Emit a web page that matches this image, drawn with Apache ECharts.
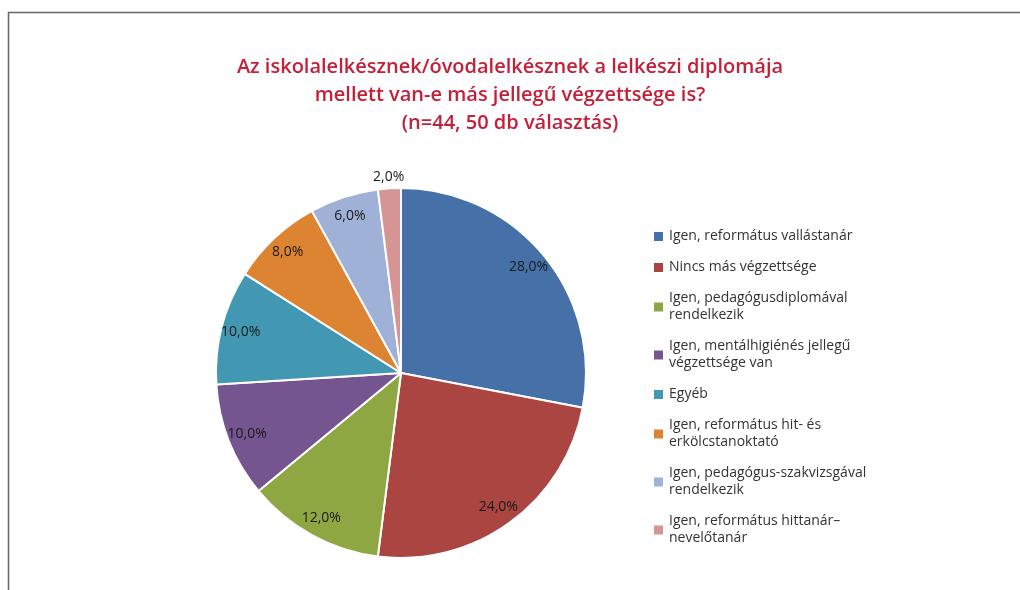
<!DOCTYPE html>
<html>
<head>
<meta charset="utf-8">
<script src="https://cdn.jsdelivr.net/npm/echarts@6/dist/echarts.min.js"></script>
<style>
  html, body { margin: 0; padding: 0; background: #fff; }
  #main { width: 1020px; height: 590px; }
</style>
</head>
<body>
<div id="main"></div>
<script>
var categories = [
  'Igen, református vallástanár',
  'Nincs más végzettsége',
  'Igen, pedagógusdiplomával\nrendelkezik',
  'Igen, mentálhigiénés jellegű\nvégzettsége van',
  'Egyéb',
  'Igen, református hit- és\nerkölcstanoktató',
  'Igen, pedagógus-szakvizsgával\nrendelkezik',
  'Igen, református hittanár–\nnevelőtanár'
];
var values = [28, 24, 12, 10, 10, 8, 6, 2];
var colors = ['#4571a8', '#aa4541', '#8ea743', '#74558f', '#4298b3', '#dd8433', '#a0b1d8', '#d69595'];
// slices whose label sits outside the pie
var outsideIdx = [7];

var titleText = 'Az iskolalelkésznek/óvodalelkésznek a lelkészi diplomája\nmellett van-e más jellegű végzettsége is?\n(n=44, 50 db választás)';

var myChart = echarts.init(document.getElementById('main'));

function pct(v) {
  return v.toFixed(1).replace('.', ',') + '%';
}

var mainData = [];
var innerData = [];
var outerData = [];
for (var i = 0; i < categories.length; i++) {
  var out = outsideIdx.indexOf(i) !== -1;
  mainData.push({ name: categories[i], value: values[i] });
  innerData.push({ name: categories[i], value: values[i], label: { show: !out } });
  outerData.push({ name: categories[i], value: values[i], label: { show: out } });
}

var labelStyle = {
  position: 'inside',
  color: '#1a1a1a',
  fontFamily: 'Open Sans',
  fontSize: 14,
  formatter: function (p) { return pct(p.value); }
};

var ghost = {
  type: 'pie',
  center: [401, 373],
  startAngle: 90,
  silent: true,
  itemStyle: { color: 'rgba(0,0,0,0)', borderWidth: 0 },
  emphasis: { disabled: true },
  labelLine: { show: false }
};

option = {
  animation: false,
  color: colors,
  title: {
    text: titleText,
    left: 'center',
    top: 48,
    textStyle: {
      color: '#c4203a',
      fontFamily: 'Open Sans',
      fontSize: 20,
      fontWeight: 600,
      lineHeight: 28
    }
  },
  legend: {
    orient: 'vertical',
    left: 652,
    top: 228,
    padding: 0,
    icon: 'rect',
    itemWidth: 11,
    itemHeight: 11,
    itemGap: 14,
    textStyle: {
      color: '#333',
      fontFamily: 'Open Sans',
      fontSize: 14,
      lineHeight: 17
    },
    data: categories
  },
  graphic: [{
    type: 'rect',
    shape: { x: 8.5, y: 12.5, width: 1100, height: 700 },
    style: { fill: 'none', stroke: '#666', lineWidth: 1.5 },
    silent: true
  }],
  series: [
    {
      name: 'main',
      type: 'pie',
      center: [401, 373],
      radius: 185,
      startAngle: 90,
      itemStyle: { borderColor: '#fff', borderWidth: 2 },
      label: { show: false },
      labelLine: { show: false },
      emphasis: { scale: false },
      data: mainData
    },
    Object.assign({}, ghost, {
      name: 'inner',
      radius: [140, 185],
      label: labelStyle,
      data: innerData
    }),
    Object.assign({}, ghost, {
      name: 'outer',
      radius: [185, 201],
      label: labelStyle,
      data: outerData
    })
  ]
};

myChart.setOption(option);
</script>
</body>
</html>
